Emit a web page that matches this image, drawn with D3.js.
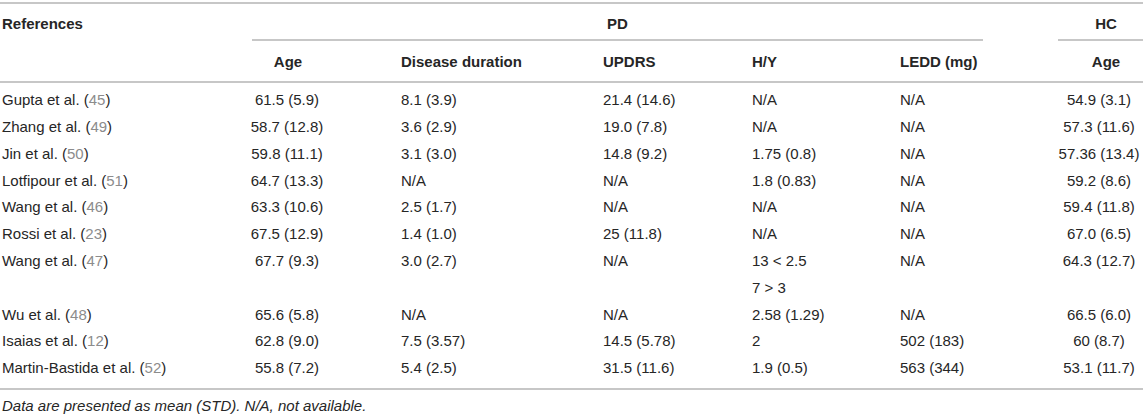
<!DOCTYPE html>
<html>
<head>
<meta charset="utf-8">
<script src="https://cdn.jsdelivr.net/npm/d3@7"></script>
<style>
  body { margin: 0; background: #fff; }
  svg { display: block; font-family: "Liberation Sans", Arial, Helvetica, sans-serif; }
</style>
</head>
<body>
<div id="chart"></div>
<script>
// table content
var refs = ["Gupta et al.", "Zhang et al.", "Jin et al.", "Lotfipour et al.", "Wang et al.",
  "Rossi et al.", "Wang et al.", "Wu et al.", "Isaias et al.", "Martin-Bastida et al."];
var cites = ["45", "49", "50", "51", "46", "23", "47", "48", "12", "52"];
var pdAge = ["61.5 (5.9)", "58.7 (12.8)", "59.8 (11.1)", "64.7 (13.3)", "63.3 (10.6)",
  "67.5 (12.9)", "67.7 (9.3)", "65.6 (5.8)", "62.8 (9.0)", "55.8 (7.2)"];
var duration = ["8.1 (3.9)", "3.6 (2.9)", "3.1 (3.0)", "N/A", "2.5 (1.7)",
  "1.4 (1.0)", "3.0 (2.7)", "N/A", "7.5 (3.57)", "5.4 (2.5)"];
var updrs = ["21.4 (14.6)", "19.0 (7.8)", "14.8 (9.2)", "N/A", "N/A",
  "25 (11.8)", "N/A", "N/A", "14.5 (5.78)", "31.5 (11.6)"];
var hy = [["N/A"], ["N/A"], ["1.75 (0.8)"], ["1.8 (0.83)"], ["N/A"],
  ["N/A"], ["13 < 2.5", "7 > 3"], ["2.58 (1.29)"], ["2"], ["1.9 (0.5)"]];
var ledd = ["N/A", "N/A", "N/A", "N/A", "N/A", "N/A", "N/A", "N/A", "502 (183)", "563 (344)"];
var hcAge = ["54.9 (3.1)", "57.3 (11.6)", "57.36 (13.4)", "59.2 (8.6)", "59.4 (11.8)",
  "67.0 (6.5)", "64.3 (12.7)", "66.5 (6.0)", "60 (8.7)", "53.1 (11.7)"];
var groupHeads = ["PD", "HC"];
var subHeads = ["Age", "Disease duration", "UPDRS", "H/Y", "LEDD (mg)", "Age"];
var footnote = "Data are presented as mean (STD). N/A, not available.";

var width = 1143, height = 416;
var textCol = "#262626", ruleCol = "#b5b5b5", citeCol = "#8c8c8c";

var svg = d3.select("#chart").append("svg")
  .attr("width", width)
  .attr("height", height);

// column positions: key -> x, with anchor
var colKeys = ["pdAge", "duration", "updrs", "hy", "ledd", "hcAge"];
var colX = d3.scaleOrdinal().domain(colKeys).range([287, 401, 603, 752, 900, 1099]);
var colAnchor = d3.scaleOrdinal().domain(colKeys).range(["middle", "start", "start", "start", "start", "middle"]);
var headX = d3.scaleOrdinal().domain(colKeys).range([288, 401, 603, 752, 900, 1106]);

// build rows: each row may span several text lines
var rows = [];
var lineIdx = 0;
refs.forEach(function(r, i) {
  var n = hy[i].length;
  rows.push({ ref: r, cite: cites[i], pdAge: [pdAge[i]], duration: [duration[i]], updrs: [updrs[i]],
    hy: hy[i], ledd: [ledd[i]], hcAge: [hcAge[i]], line: lineIdx });
  lineIdx += n;
});

var y = d3.scaleLinear().domain([0, lineIdx - 1]).range([100, 368]);
var fs = 15;
var base = fs * 0.35;

function rule(x1, x2, yy) {
  svg.append("line")
    .attr("x1", x1).attr("x2", x2)
    .attr("y1", yy).attr("y2", yy)
    .attr("stroke", ruleCol)
    .attr("stroke-width", 1.6);
}

// rules
rule(0, width, 3);
rule(252, 983, 40);
rule(1058, width, 40);
rule(0, width, 82);
rule(0, width, 389);

// header
svg.append("text")
  .attr("x", 2).attr("y", 24 + base)
  .attr("font-size", fs).attr("font-weight", "bold").attr("fill", textCol)
  .text("References");

svg.selectAll("text.group")
  .data(groupHeads)
  .enter().append("text")
    .attr("class", "group")
    .attr("x", function(d, i) { return i == 0 ? (252 + 983) / 2 : headX("hcAge"); })
    .attr("y", 24 + base)
    .attr("text-anchor", "middle")
    .attr("font-size", fs).attr("font-weight", "bold").attr("fill", textCol)
    .text(function(d) { return d; });

svg.selectAll("text.sub")
  .data(subHeads)
  .enter().append("text")
    .attr("class", "sub")
    .attr("x", function(d, i) { return headX(colKeys[i]); })
    .attr("y", 62 + base)
    .attr("text-anchor", function(d, i) { return colAnchor(colKeys[i]); })
    .attr("font-size", fs).attr("font-weight", "bold").attr("fill", textCol)
    .text(function(d) { return d; });

// body: reference column with grey citation numbers
var refText = svg.selectAll("text.ref")
  .data(rows)
  .enter().append("text")
    .attr("class", "ref")
    .attr("x", 2)
    .attr("y", function(d) { return y(d.line) + base; })
    .attr("font-size", fs).attr("fill", textCol);
refText.append("tspan").text(function(d) { return d.ref + " ("; });
refText.append("tspan").attr("fill", citeCol).text(function(d) { return d.cite; });
refText.append("tspan").text(")");

// body: value columns
colKeys.forEach(function(k) {
  var cells = [];
  rows.forEach(function(r) {
    r[k].forEach(function(v, j) { cells.push({ v: v, line: r.line + j }); });
  });
  svg.selectAll("text.c-" + k)
    .data(cells)
    .enter().append("text")
      .attr("class", "c-" + k)
      .attr("x", colX(k))
      .attr("y", function(d) { return y(d.line) + base; })
      .attr("text-anchor", colAnchor(k))
      .attr("font-size", fs).attr("fill", textCol)
      .text(function(d) { return d.v; });
});

// footnote
svg.append("text")
  .attr("x", 2).attr("y", 406 + base)
  .attr("font-size", fs).attr("font-style", "italic").attr("fill", textCol)
  .text(footnote);
</script>
</body>
</html>
